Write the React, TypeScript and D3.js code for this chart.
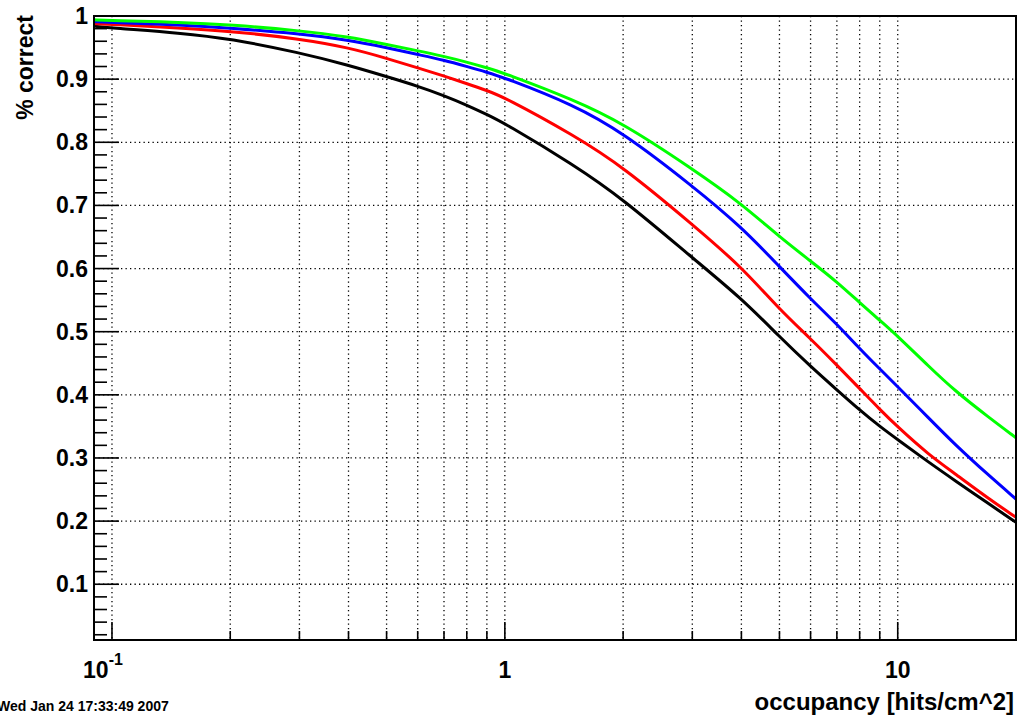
import React, { useEffect, useRef } from 'react';
import * as d3 from 'd3';

// occupancy [hits/cm^2] sample points
const occupancy = [0.09, 0.1, 0.15, 0.2, 0.3, 0.4, 0.5, 0.6, 0.7, 0.8, 0.9, 1, 1.5, 2, 3, 4, 5, 6, 7, 8, 9, 10, 12, 14, 17, 20];

const blackCurve = [0.984, 0.981, 0.973, 0.964, 0.942, 0.922, 0.904, 0.889, 0.874, 0.859, 0.844, 0.83, 0.764, 0.71, 0.617, 0.553, 0.492, 0.445, 0.408, 0.376, 0.35, 0.329, 0.293, 0.264, 0.228, 0.198];
const redCurve = [0.988, 0.987, 0.981, 0.976, 0.964, 0.95, 0.933, 0.918, 0.905, 0.893, 0.882, 0.871, 0.811, 0.761, 0.67, 0.603, 0.535, 0.489, 0.447, 0.41, 0.377, 0.349, 0.305, 0.275, 0.236, 0.206];
const blueCurve = [0.991, 0.99, 0.986, 0.981, 0.972, 0.962, 0.95, 0.939, 0.93, 0.92, 0.911, 0.902, 0.859, 0.815, 0.731, 0.666, 0.603, 0.552, 0.512, 0.473, 0.441, 0.413, 0.363, 0.321, 0.273, 0.235];
const greenCurve = [0.994, 0.993, 0.99, 0.986, 0.977, 0.967, 0.955, 0.945, 0.936, 0.927, 0.918, 0.909, 0.867, 0.83, 0.758, 0.703, 0.65, 0.612, 0.579, 0.546, 0.518, 0.493, 0.445, 0.406, 0.365, 0.332];

const series = [
  { name: 'black', color: '#000000', values: blackCurve },
  { name: 'red', color: '#ff0000', values: redCurve },
  { name: 'blue', color: '#0000ff', values: blueCurve },
  { name: 'green', color: '#00ff00', values: greenCurve },
];

const yTicks = [0.1, 0.2, 0.3, 0.4, 0.5, 0.6, 0.7, 0.8, 0.9, 1];
const xMajor = [0.1, 1, 10];
const xMinor = [0.2, 0.3, 0.4, 0.5, 0.6, 0.7, 0.8, 0.9, 2, 3, 4, 5, 6, 7, 8, 9, 20];

const dateStamp = 'Wed Jan 24 17:33:49 2007';

export default function App() {
  const ref = useRef<SVGSVGElement | null>(null);

  useEffect(() => {
    const width = 1018;
    const height = 719;
    const m = { top: 16, right: 2, bottom: 79, left: 94 };
    const font = '"Liberation Sans", Arial, Helvetica, sans-serif';

    const svg = d3.select(ref.current);
    svg.selectAll('*').remove();

    const x = d3.scaleLog().domain([0.09, 20]).range([m.left, width - m.right]);
    const y = d3.scaleLinear().domain([0.0117, 1.0]).range([height - m.bottom, m.top]);

    svg.append('rect').attr('width', width).attr('height', height).attr('fill', '#fff');

    svg.append('clipPath').attr('id', 'frame')
      .append('rect')
      .attr('x', m.left).attr('y', m.top)
      .attr('width', width - m.left - m.right)
      .attr('height', height - m.top - m.bottom);

    // dotted grid
    const grid = svg.append('g').attr('stroke', '#000').attr('stroke-width', 1.3)
      .attr('stroke-dasharray', '1.3 3.2');
    grid.selectAll('line.h').data(yTicks).enter().append('line')
      .attr('x1', m.left).attr('x2', width - m.right)
      .attr('y1', (d) => y(d)).attr('y2', (d) => y(d));
    grid.selectAll('line.v').data([...xMajor, ...xMinor.filter((d) => d < 20)]).enter().append('line')
      .attr('y1', m.top).attr('y2', height - m.bottom)
      .attr('x1', (d) => x(d)).attr('x2', (d) => x(d));

    // curves (basis smooths the reading noise a bit)
    const line = d3.line<number>()
      .x((_, i) => x(occupancy[i]))
      .y((d) => y(d))
      .curve(d3.curveBasis);

    series.forEach((s) => {
      svg.append('path')
        .datum(s.values)
        .attr('clip-path', 'url(#frame)')
        .attr('fill', 'none')
        .attr('stroke', s.color)
        .attr('stroke-width', 3)
        .attr('d', line);
    });

    // ticks
    const ticks = svg.append('g').attr('stroke', '#000').attr('stroke-width', 1.6);
    const yMinor = d3.range(0.02, 1.0, 0.02).filter((v) => y(v) <= height - m.bottom && Math.abs(v * 10 - Math.round(v * 10)) > 0.01);
    ticks.selectAll('line.ym').data(yMinor).enter().append('line')
      .attr('x1', m.left).attr('x2', m.left + 13)
      .attr('y1', (d) => y(d)).attr('y2', (d) => y(d));
    ticks.selectAll('line.yM').data(yTicks).enter().append('line')
      .attr('x1', m.left).attr('x2', m.left + 25)
      .attr('y1', (d) => y(d)).attr('y2', (d) => y(d));
    ticks.selectAll('line.xm').data(xMinor).enter().append('line')
      .attr('y1', height - m.bottom).attr('y2', height - m.bottom - 9)
      .attr('x1', (d) => x(d)).attr('x2', (d) => x(d));
    ticks.selectAll('line.xM').data(xMajor).enter().append('line')
      .attr('y1', height - m.bottom).attr('y2', height - m.bottom - 18)
      .attr('x1', (d) => x(d)).attr('x2', (d) => x(d));

    // frame
    svg.append('rect')
      .attr('x', m.left).attr('y', m.top)
      .attr('width', width - m.left - m.right)
      .attr('height', height - m.top - m.bottom)
      .attr('fill', 'none').attr('stroke', '#000').attr('stroke-width', 2);

    // y labels
    svg.append('g').selectAll('text').data(yTicks).enter().append('text')
      .attr('x', 88).attr('y', (d) => y(d) + 8)
      .attr('text-anchor', 'end')
      .style('font', `bold 23px ${font}`)
      .text((d) => (d === 1 ? '1' : d3.format('.1f')(d)));

    // x labels
    const xl = svg.append('g').style('font', `bold 23px ${font}`);
    const t0 = xl.append('text').attr('x', x(0.1) - 9).attr('y', 678).attr('text-anchor', 'middle');
    t0.append('tspan').text('10');
    t0.append('tspan').attr('dy', -13).style('font-size', '16px').text('-1');
    xl.append('text').attr('x', x(1)).attr('y', 678).attr('text-anchor', 'middle').text('1');
    xl.append('text').attr('x', x(10)).attr('y', 678).attr('text-anchor', 'middle').text('10');

    // axis titles
    svg.append('text')
      .attr('x', 1014).attr('y', 710)
      .attr('text-anchor', 'end')
      .style('font', `bold 24px ${font}`)
      .text('occupancy [hits/cm^2]');

    svg.append('text')
      .attr('transform', 'translate(33, 15) rotate(-90)')
      .attr('text-anchor', 'end')
      .style('font', `bold 23px ${font}`)
      .text('% correct');

    // date stamp, cut at the left edge as in the original
    svg.append('text')
      .attr('x', -3).attr('y', 711)
      .style('font', `bold 14px ${font}`)
      .text(dateStamp);
  }, []);

  return (
    <svg
      ref={ref}
      width={1018}
      height={719}
      style={{ position: 'absolute', left: 0, top: 0, background: '#fff' }}
    />
  );
}
